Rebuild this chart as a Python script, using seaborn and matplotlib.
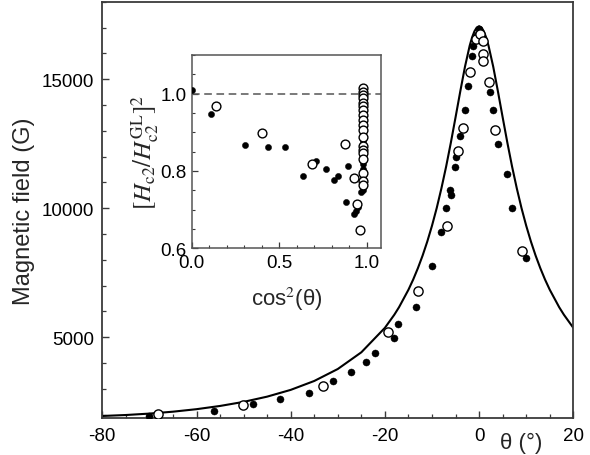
import numpy as np
import pandas as pd
import matplotlib
matplotlib.use("Agg")
import matplotlib.pyplot as plt
from matplotlib.ticker import MultipleLocator, FixedLocator
import seaborn as sns

# ---------------- data ----------------
curve_theta = [-80, -75, -70, -65, -60, -55, -50, -45, -40, -35, -30, -25, -20, -18, -17,
               -15, -14, -13, -12, -11, -10, -9, -8, -7, -6, -5, -4, -3, -2, -1.5, -1,
               -0.5, 0, 0.5, 1, 1.5, 2, 3, 4, 5, 6, 7, 8, 9, 10, 11, 12, 13, 14, 15,
               17, 18, 20]
curve_H = [1950, 1987, 2042, 2116, 2213, 2338, 2496, 2699, 2961, 3306, 3770, 4417, 5365, 5873, 6164,
           6841, 7234, 7674, 8162, 8709, 9322, 10005, 10771, 11613, 12537, 13521, 14522, 15480, 16295, 16613, 16851,
           17000, 17050, 17000, 16851, 16613, 16295, 15480, 14522, 13521, 12537, 11613, 10771, 10005, 9322, 8709, 8162, 7674, 7234, 6841,
           6164, 5873, 5365]

filled_theta = [-70.0, -56.2, -48.1, -42.3, -36.1, -31.0, -27.2, -24.1, -22.0, -18.1, -17.2,
                -13.5, -10.1, -8.0, -7.0, -6.2, -5.9, -5.1, -5.0, -4.05, -3.1, -2.3, -1.6,
                -1.2, -0.5, 0.0, 2.3, 3.0, 4.0, 5.9, 7.05, 10.0]
filled_H = [1961, 2132, 2403, 2609, 2853, 3318, 3667, 4031, 4380, 4973, 5516,
            6186, 7775, 9093, 10000, 10700, 10530, 11612, 12000, 12814, 13822, 14752, 15915,
            16302, 16700, 16950, 14496, 13822, 12492, 11318, 10000, 8074]

open_theta = [-68.1, -50.1, -33.1, -19.4, -12.9, -6.9, -4.4, -3.5, -1.9, -0.6, 0.2, 0.8,
              0.9, 0.9, 2.0, 3.4, 9.2]
open_H = [2027, 2376, 3124, 5217, 6806, 9302, 12209, 13101, 15271, 16560, 16756, 16496,
          15981, 15721, 14884, 13047, 8345]

# inset: cos^2(theta) vs (Hc2/Hc2^GL)^2
in_filled_x = [0.0, 0.110, 0.303, 0.436, 0.532, 0.636, 0.712, 0.769, 0.815, 0.836, 0.880,
               0.892, 0.925, 0.940, 0.950, 0.965,
               0.980, 0.980, 0.980, 0.980, 0.980, 0.980, 0.980, 0.980, 0.980, 0.980, 0.980, 0.980]
in_filled_y = [1.01, 0.948, 0.868, 0.862, 0.863, 0.788, 0.827, 0.806, 0.777, 0.787, 0.720,
               0.813, 0.690, 0.697, 0.708, 0.745,
               0.941, 0.920, 0.902, 0.877, 0.851, 0.838, 0.817, 0.804, 0.787, 0.774, 0.761, 0.752]
in_open_x = [0.137, 0.403, 0.685, 0.873, 0.928, 0.946, 0.962,
             0.980, 0.980, 0.980, 0.980, 0.980, 0.980, 0.980, 0.980, 0.980, 0.980,
             0.980, 0.980, 0.980, 0.980, 0.980, 0.980, 0.980, 0.980, 0.980]
in_open_y = [0.969, 0.898, 0.819, 0.870, 0.782, 0.714, 0.647,
             1.014, 1.005, 0.997, 0.988, 0.975, 0.967, 0.958, 0.945, 0.932, 0.920,
             0.907, 0.889, 0.864, 0.855, 0.847, 0.830, 0.795, 0.774, 0.765]

main_xticks = [-80, -60, -40, -20, 0, 20]
main_yticks = [5000, 10000, 15000]
inset_xticks = [0.0, 0.5, 1.0]
inset_xticklabels = ["0.0", "0.5", "1.0"]
inset_yticks = [0.6, 0.8, 1.0]
inset_yticklabels = ["0.6", "0.8", "1.0"]

# ---------------- style ----------------
sns.set_style("ticks")
plt.rcParams["font.family"] = ["Liberation Sans", "DejaVu Sans"]
plt.rcParams["axes.unicode_minus"] = False
plt.rcParams["mathtext.fontset"] = "stix"

spine_col = "#3a3a3a"

fig = plt.figure(figsize=(5.9, 4.56), dpi=100)
ax = fig.add_axes([0.1734, 0.0805, 0.7983, 0.9136])

df_curve = pd.DataFrame({"theta": curve_theta, "H": curve_H})
df_f = pd.DataFrame({"theta": filled_theta, "H": filled_H})
df_o = pd.DataFrame({"theta": open_theta, "H": open_H})

sns.lineplot(data=df_curve, x="theta", y="H", ax=ax, color="black", linewidth=1.5,
             sort=False, estimator=None)
sns.scatterplot(data=df_f, x="theta", y="H", ax=ax, color="black", s=26,
                edgecolor="black", linewidth=0.3, zorder=3)
sns.scatterplot(data=df_o, x="theta", y="H", ax=ax, facecolor="white", s=44,
                edgecolor="black", linewidth=1.0, zorder=4)

ax.set_xlim(-80, 20)
ax.set_ylim(1860, 18000)
ax.set_xticks(main_xticks)
ax.set_xticklabels([str(t) for t in main_xticks])
ax.set_yticks(main_yticks)
ax.set_yticklabels([str(t) for t in main_yticks])
ax.xaxis.set_minor_locator(MultipleLocator(5))
ax.yaxis.set_minor_locator(MultipleLocator(1000))
ax.tick_params(which="both", direction="in", top=False, right=False, colors=spine_col,
               labelcolor="black", labelsize=13.5)
ax.tick_params(which="major", length=5, width=1.0, pad=6)
ax.tick_params(which="minor", length=2.8, width=0.9)
for sp in ax.spines.values():
    sp.set_visible(True)
    sp.set_color(spine_col)
    sp.set_linewidth(1.3)
ax.set_xlabel("")
ax.set_ylabel("Magnetic field (G)", fontsize=17, labelpad=5)
fig.text(521 / 590, 1.5 / 456, "θ (°)", fontsize=16, ha="center", va="bottom")

# ---------------- inset ----------------
ax2 = fig.add_axes([0.3251, 0.4533, 0.3207, 0.4239])
df_if = pd.DataFrame({"c": in_filled_x, "r": in_filled_y})
df_io = pd.DataFrame({"c": in_open_x, "r": in_open_y})
ax2.axhline(1.0, color="#555555", linestyle=(0, (5, 3)), linewidth=1.1, zorder=1)
sns.scatterplot(data=df_if, x="c", y="r", ax=ax2, color="black", s=20,
                edgecolor="black", linewidth=0.3, zorder=3)
sns.scatterplot(data=df_io, x="c", y="r", ax=ax2, facecolor="white", s=40,
                edgecolor="black", linewidth=1.0, zorder=4)
ax2.set_xlim(0, 1.081)
ax2.set_ylim(0.6, 1.1)
ax2.set_xticks(inset_xticks)
ax2.set_xticklabels(inset_xticklabels)
ax2.set_yticks(inset_yticks)
ax2.set_yticklabels(inset_yticklabels)
ax2.xaxis.set_minor_locator(MultipleLocator(0.1))
ax2.yaxis.set_minor_locator(MultipleLocator(0.05))
ax2.tick_params(which="both", direction="in", top=False, right=False, colors=spine_col,
                labelcolor="black", labelsize=13.5)
ax2.tick_params(which="major", length=4, width=0.9, pad=4)
ax2.tick_params(which="minor", length=2.2, width=0.8)
for sp in ax2.spines.values():
    sp.set_visible(True)
    sp.set_color("#555555")
    sp.set_linewidth(1.1)
ax2.set_xlabel("cos$^2$(θ)", fontsize=16, labelpad=10)
ax2.set_ylabel(r"$[H_{\rm c2}/H_{\rm c2}^{\rm GL}]^2$", fontsize=18)
ax2.yaxis.set_label_coords(-0.165, 0.5)

fig.savefig("out.png", dpi=100)
